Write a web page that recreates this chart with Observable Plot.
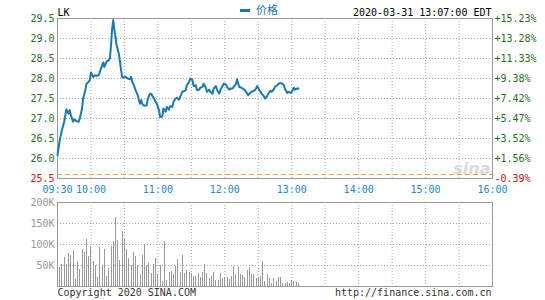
<!DOCTYPE html>
<html><head><meta charset="utf-8">
<script src="https://cdn.jsdelivr.net/npm/d3@7"></script>
<script src="https://cdn.jsdelivr.net/npm/@observablehq/plot@0.6"></script>
<style>
body{margin:0;background:#fff;}
#chart{position:relative;width:545px;height:300px;font-family:"DejaVu Sans Mono",monospace;}
#chart svg{position:absolute;left:0;overflow:visible;background:transparent;}
#legend{position:absolute;left:240px;top:2px;font:11px "Noto Sans CJK SC",sans-serif;color:#1a78b4;line-height:14px;white-space:nowrap;}
#legend .sw{display:inline-block;width:10px;height:3px;background:#1a78b4;vertical-align:middle;margin-right:6px;position:relative;top:-1px;}
</style></head><body><div id="chart"><div id="legend"><span class="sw"></span>价格</div></div>
<script>
// ---- data ----
const symbol = "LK";
const seriesName = "价格";
const timestamp = "2020-03-31 13:07:00 EDT";
const prevClose = 25.6;
const priceTicks = [25.5, 26.0, 26.5, 27.0, 27.5, 28.0, 28.5, 29.0, 29.5];
const pctLabels = ["-0.39%", "+1.56%", "+3.52%", "+5.47%", "+7.42%", "+9.38%", "+11.33%", "+13.28%", "+15.23%"];
const timeTickMinutes = [0, 30, 90, 150, 210, 270, 330, 390];
const timeTickLabels = ["09:30", "10:00", "11:00", "12:00", "13:00", "14:00", "15:00", "16:00"];
const gridMinutes = [30, 60, 90, 120, 150, 180, 210, 240, 270, 300, 330, 360];
const volTicks = [50, 100, 150, 200];
const volLabels = ["50K", "100K", "150K", "200K"];
const volInterval = 2; // minutes per volume bar

// minutes after 09:30 and price
const priceMinutes = [0,2,4,6,8,10,11,12,14,15,17,19,20,22,23,25,26,28,29,30,32,34,35,37,38,40,41,42,44,46,47,48,49,50,51,52,53,55,56,57,58,59,61,63,65,66,67,69,70,72,73,74,75,76,77,78,80,81,83,84,86,89,91,92,94,95,97,98,100,101,103,104,106,107,109,110,112,113,115,116,118,119,121,122,124,125,127,128,130,131,133,134,136,137,139,140,142,143,145,146,148,149,151,152,154,155,157,158,160,161,162,163,165,166,168,169,171,172,174,175,177,178,179,181,182,183,185,186,188,189,191,192,194,195,197,198,200,201,203,204,206,207,209,210,212,213,215,216];
const prices = [26.08,26.46,26.71,26.92,27.23,27.12,27.21,27.08,26.92,26.98,26.93,26.92,27.00,27.25,27.50,27.71,27.87,27.92,27.96,28.15,28.04,28.08,28.07,28.08,28.17,28.33,28.40,28.29,28.42,28.46,28.50,28.83,29.25,29.46,29.21,29.04,28.83,28.62,28.42,28.21,28.04,28.02,28.04,28.00,27.98,28.04,27.92,27.79,27.71,27.58,27.46,27.37,27.46,27.37,27.33,27.32,27.33,27.50,27.62,27.62,27.52,27.37,27.21,27.04,27.05,27.25,27.17,27.29,27.22,27.31,27.29,27.42,27.50,27.52,27.47,27.54,27.67,27.68,27.71,27.83,27.92,28.00,27.96,27.81,27.83,27.71,27.72,27.77,27.79,27.87,27.77,27.67,27.72,27.67,27.62,27.75,27.81,27.72,27.62,27.71,27.81,27.87,27.85,27.79,27.72,27.75,27.75,27.79,27.87,27.98,27.87,27.79,27.77,27.75,27.71,27.67,27.58,27.62,27.67,27.68,27.71,27.75,27.81,27.71,27.67,27.62,27.56,27.50,27.56,27.62,27.69,27.67,27.73,27.79,27.83,27.87,27.88,27.88,27.83,27.73,27.64,27.67,27.64,27.67,27.77,27.72,27.75,27.75];

// volume per 2-minute bar, thousands of shares
const volumes = [117,45,53,69,53,79,75,85,16,59,40,87,81,111,71,95,59,50,22,94,50,87,25,43,95,108,165,110,62,130,113,88,67,50,82,72,50,28,75,97,50,55,30,52,67,28,50,12,107,15,33,35,28,47,64,33,73,31,37,33,31,25,25,31,21,33,53,31,18,25,33,14,14,31,18,21,22,16,24,47,29,45,29,27,22,37,45,29,28,18,21,24,59,12,29,18,6,18,12,21,22,7,7,10,6,14,12,10,6];

// ---- styles ----
const lineColor = "#1a78b4";
const green = "#1f6e1f";
const red = "#cc1111";
const timeColor = "#2288c8";
const frameColor = "#999";
const gridStyle = {stroke: "#aaa", strokeOpacity: 1, strokeDasharray: "1,2"};
const font = {fontFamily: "DejaVu Sans Mono", fontSize: "10px", background: "transparent", overflow: "visible"};

const priceData = priceMinutes.map((m, i) => ({m, p: prices[i]}));
const volData = volumes.map((v, i) => ({m: i * volInterval, v}));

const pricePlot = Plot.plot({
  width: 545, height: 195,
  marginLeft: 57, marginRight: 53, marginTop: 18, marginBottom: 17,
  x: {domain: [0, 390]},
  y: {domain: [25.5, 29.5]},
  style: font,
  marks: [
    Plot.gridX(gridMinutes, gridStyle),
    Plot.gridY(priceTicks.slice(1, -1), gridStyle),
    Plot.ruleY([prevClose], {stroke: "#eda050", strokeDasharray: "5,3"}),
    Plot.frame({stroke: frameColor}),
    Plot.line(priceData, {x: "m", y: "p", stroke: lineColor, strokeWidth: 2}),
    Plot.axisY(priceTicks.filter(v => v > prevClose), {anchor: "left", tickSize: 0, tickPadding: 3, fill: green, tickFormat: d => d.toFixed(1), label: null}),
    Plot.axisY(priceTicks.filter(v => v < prevClose), {anchor: "left", tickSize: 0, tickPadding: 3, fill: red, tickFormat: d => d.toFixed(1), label: null}),
    Plot.axisY(priceTicks.filter(v => v > prevClose), {anchor: "right", tickSize: 0, tickPadding: 2, fill: green, tickFormat: d => pctLabels[priceTicks.indexOf(d)], label: null}),
    Plot.axisY(priceTicks.filter(v => v < prevClose), {anchor: "right", tickSize: 0, tickPadding: 2, fill: red, tickFormat: d => pctLabels[priceTicks.indexOf(d)], label: null}),
    Plot.axisX(timeTickMinutes, {tickSize: 0, tickPadding: 7, fill: timeColor, tickFormat: d => timeTickLabels[timeTickMinutes.indexOf(d)], label: null}),
    Plot.text([symbol], {text: d => d, frameAnchor: "top-left", textAnchor: "start", lineAnchor: "bottom", dy: -3, fill: "#000"}),
    Plot.text([timestamp], {text: d => d, frameAnchor: "top-right", textAnchor: "end", lineAnchor: "bottom", dy: -3, dx: -1, fill: "#000"}),
    Plot.text(["sina"], {text: d => d, frameAnchor: "bottom-right", textAnchor: "end", lineAnchor: "bottom", dx: -2, dy: -5, fill: "#d9d9d9", fontSize: 16, fontWeight: "bold", fontStyle: "italic", fontFamily: "DejaVu Sans"})
  ]
});
pricePlot.style.top = "0px";

const volPlot = Plot.plot({
  width: 545, height: 105,
  marginLeft: 57, marginRight: 53, marginTop: 7, marginBottom: 14,
  x: {domain: [0, 390], axis: null},
  y: {domain: [0, 200]},
  style: font,
  marks: [
    Plot.gridX(gridMinutes, gridStyle),
    Plot.gridY(volTicks.slice(0, -1), gridStyle),
    Plot.ruleX(volData, {x: "m", y1: 0, y2: "v", stroke: "#999", shapeRendering: "crispEdges"}),
    Plot.frame({stroke: frameColor}),
    Plot.axisY(volTicks, {anchor: "left", tickSize: 0, tickPadding: 3, fill: "#999", tickFormat: d => volLabels[volTicks.indexOf(d)], label: null}),
    Plot.text(["Copyright 2020 SINA.COM"], {text: d => d, frameAnchor: "bottom-left", textAnchor: "start", lineAnchor: "bottom", dy: 9.5, fill: "#333"}),
    Plot.text(["http://finance.sina.com.cn"], {text: d => d, frameAnchor: "bottom-right", textAnchor: "end", lineAnchor: "bottom", dy: 9.5, dx: -1, fill: "#333"})
  ]
});
volPlot.style.top = "195px";

const chart = document.getElementById("chart");
chart.appendChild(pricePlot);
chart.appendChild(volPlot);
</script></body></html>
